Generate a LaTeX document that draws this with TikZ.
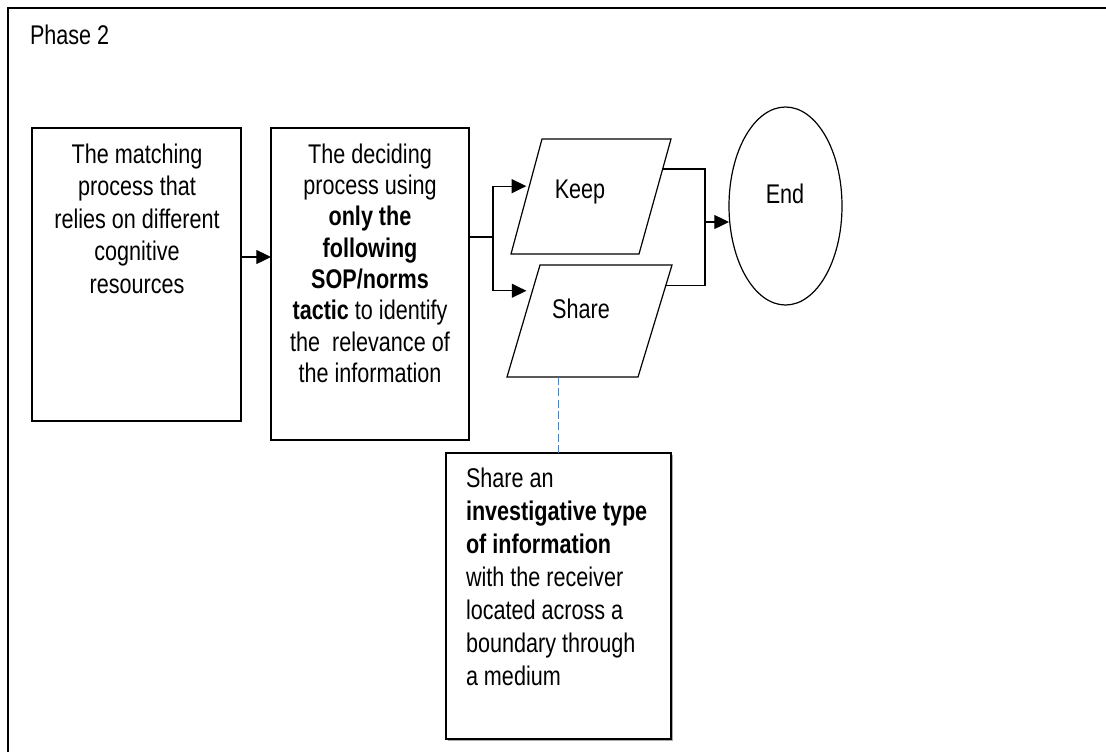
\documentclass[tikz,border=0pt]{standalone}
\usepackage{fontspec}
\setmainfont{Liberation Sans}[FakeStretch=0.8]
\usetikzlibrary{arrows.meta,calc,shapes.geometric,shadows}

\begin{document}
\begin{tikzpicture}[x=0.75pt,y=-0.75pt,
  every node/.style={inner sep=0pt,outer sep=0pt},
  font=\fontsize{20.25pt}{24.4pt}\selectfont,
  line/.style={draw=black,line width=0.9pt},
  arr/.style={line,-{Triangle[length=11pt,width=10.5pt]}},
  stepbox/.style={draw,line width=0.9pt,rectangle},
  datashape/.style={draw,line width=0.9pt,line join=miter},
  endbox/.style={draw,line width=0.9pt,shape=ellipse},
  link/.style={draw={rgb,255:red,79;green,129;blue,189},line width=0.8pt,
    dash pattern=on 6pt off 2.5pt},
]
\useasboundingbox (0,0) rectangle (1106,751);

% outer frame (cropped at the right and bottom)
\draw[line width=1.5pt] (8,752) -- (8,8) -- (1107,8);
\node[anchor=base west] (phase) at (30,44) {Phase 2};

% process boxes
\node[stepbox,minimum width={209*0.75pt},minimum height={293*0.75pt}] (box1) at (136.5,274.5) {};
\node[anchor=north,align=center,font=\fontsize{20.25pt}{24.4pt}\selectfont] (box1text) at (137,143.5)
  {The matching\\process that\\relies on different\\cognitive\\resources};

\node[stepbox,minimum width={198*0.75pt},minimum height={312*0.75pt}] (box2) at (370,284) {};
\node[anchor=north,align=center,font=\fontsize{20.25pt}{23.5pt}\selectfont] (box2text) at (370,143.5)
  {The deciding\\process using\\\textbf{only the}\\\textbf{following}\\\textbf{SOP/norms}\\
   \textbf{tactic} to identify\\the\ \ relevance of\\the information};

% data shapes (parallelograms)
\coordinate (keepbl) at (511,254);
\coordinate (keeptl) at (542,139);
\coordinate (keeptr) at (671,139);
\coordinate (keepbr) at (639,254);
\draw[datashape] (keepbl) -- (keeptl) -- (keeptr) -- (keepbr) -- cycle;
\node[anchor=base] (keep) at (580,198) {Keep};

\coordinate (sharebl) at (507,377);
\coordinate (sharetl) at (540,265);
\coordinate (sharetr) at (672,265);
\coordinate (sharebr) at (638,377);
\draw[datashape] (sharebl) -- (sharetl) -- (sharetr) -- (sharebr) -- cycle;
\node[anchor=base] (share) at (581,318) {Share};

% terminal
\node[endbox,minimum width={113*0.75pt},minimum height={198*0.75pt}] (end) at (785.5,206) {};
\node[anchor=base] (endtext) at (785,203) {End};

% note box
\node[stepbox,minimum width={225*0.75pt},minimum height={286*0.75pt},
      drop shadow={shadow xshift=1.2pt,shadow yshift=-1.2pt,fill=black!55,opacity=0.6},fill=white] (box3) at (558.5,596) {};
\node[anchor=north west,align=left,font=\fontsize{20.25pt}{24.75pt}\selectfont] (box3text) at (466,468)
  {Share an\\\textbf{investigative type}\\\textbf{of information}\\with the receiver\\located across a\\boundary through\\a medium};

% connector end points on the slanted sides
\coordinate (fork) at (493,237);
\coordinate (keepin) at ($(keepbl)!0.59!(keeptl)$);
\coordinate (sharein) at ($(sharebl)!0.77!(sharetl)$);
\coordinate (keepout) at ($(keepbr)!0.74!(keeptr)$);
\coordinate (shareout) at ($(sharebr)!0.82!(sharetr)$);
\coordinate (join) at (705,222);

% connectors
\draw[arr] (box1.east |- 0,257) -- (box2.west |- 0,257);
\draw[line] (box2.east |- fork) -- (fork);
\draw[arr] (fork) |- ($(keepin)+(-3,0)$);
\draw[arr] (fork) |- ($(sharein)+(-6,0)$);
\draw[line] (keepout) -| (join);
\draw[line] (shareout) -| (join);
\draw[arr] (join) -- (join -| end.west);
\draw[link] (box3.north) -- (box3.north |- sharebl);
\end{tikzpicture}
\end{document}
